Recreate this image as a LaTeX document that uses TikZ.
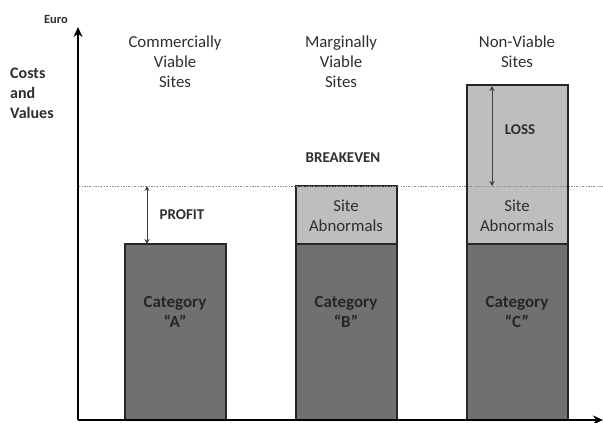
\documentclass[tikz,border=0pt]{standalone}
\usepackage{fontspec}
\setmainfont{Carlito}
\usetikzlibrary{arrows.meta}
\definecolor{darkfill}{HTML}{707070}
\definecolor{lightfill}{HTML}{BEBEBE}
\definecolor{edge}{HTML}{262626}
\definecolor{txt}{HTML}{2E2E2E}
\begin{document}
\begin{tikzpicture}[x=1pt,y=-1pt,
  barbase/.style={draw=edge, line width=1.4pt, inner sep=0pt, outer sep=0pt, anchor=north west, minimum width=101pt},
  darkbar/.style={barbase, fill=darkfill},
  lightbar/.style={barbase, fill=lightfill},
  head/.style={font=\fontsize{16.8}{20}\selectfont, text=txt, align=center, inner sep=0pt},
  boldlbl/.style={font=\fontsize{15}{19}\selectfont\bfseries, text=txt, align=center, inner sep=0pt},
  catlbl/.style={font=\fontsize{17}{20}\selectfont\bfseries, text=black!85, align=center, inner sep=0pt},
  dimarrow/.style={draw=black!75, line width=0.9pt, {Stealth[length=5pt,width=5pt]}-{Stealth[length=5pt,width=5pt]}},
  axis/.style={draw=black, line width=2.2pt, -{Stealth[length=10pt,width=9pt]}},
  evenline/.style={draw=black!45, line width=0.8pt, dash pattern=on 2pt off 1.5pt on 0.6pt off 1.5pt}
]
\useasboundingbox (0,0) rectangle (603,423);
% bars
\node[darkbar, minimum height=176pt] (Adark) at (125,244) {};
\node[lightbar, minimum height=58pt] (Blight) at (296,186) {};
\node[darkbar, minimum height=176pt] (Bdark) at (296,244) {};
\node[lightbar, minimum height=159pt] (Clight) at (467,85) {};
\node[darkbar, minimum height=176pt] (Cdark) at (467,244) {};
% breakeven line
\coordinate (evenL) at (78,186);
\coordinate (evenR) at (603,186);
\draw[evenline] (evenL) -- (evenR);
% axes
\coordinate (origin) at (78,420);
\coordinate (ytop) at (78,27);
\coordinate (xend) at (603,420);
\draw[axis] (origin) -- (ytop);
\draw[axis] (origin) -- (xend);
% dimension arrows
\coordinate (profitTop) at (147,186);
\coordinate (profitBot) at (147,244);
\draw[dimarrow] (profitTop) -- (profitBot);
\coordinate (lossTop) at (492,86);
\coordinate (lossBot) at (492,186);
\draw[dimarrow] (lossTop) -- (lossBot);
% texts
\node[font=\fontsize{12.5}{14}\selectfont\bfseries, text=txt, inner sep=0pt] (euro) at (56,19) {Euro};
\node[font=\fontsize{16}{20}\selectfont\bfseries, text=txt, align=left, inner sep=0pt, anchor=west] (costs) at (10,93) {Costs\\and\\Values};
\node[head] (hA) at (175,62) {Commercially\\Viable\\Sites};
\node[head] (hB) at (341,62) {Marginally\\Viable\\Sites};
\node[head] (hC) at (517,52) {Non-Viable\\Sites};
\node[boldlbl] (breakeven) at (343,158) {BREAKEVEN};
\node[boldlbl] (profit) at (182,215) {PROFIT};
\node[boldlbl] (loss) at (520,130) {LOSS};
\node[head] (abnB) at (346,216) {Site\\Abnormals};
\node[head] (abnC) at (517,216) {Site\\Abnormals};
\node[catlbl] (catA) at (175,312) {Category\\“A”};
\node[catlbl] (catB) at (346,312) {Category\\“B”};
\node[catlbl] (catC) at (517,312) {Category\\“C”};
\end{tikzpicture}
\end{document}
